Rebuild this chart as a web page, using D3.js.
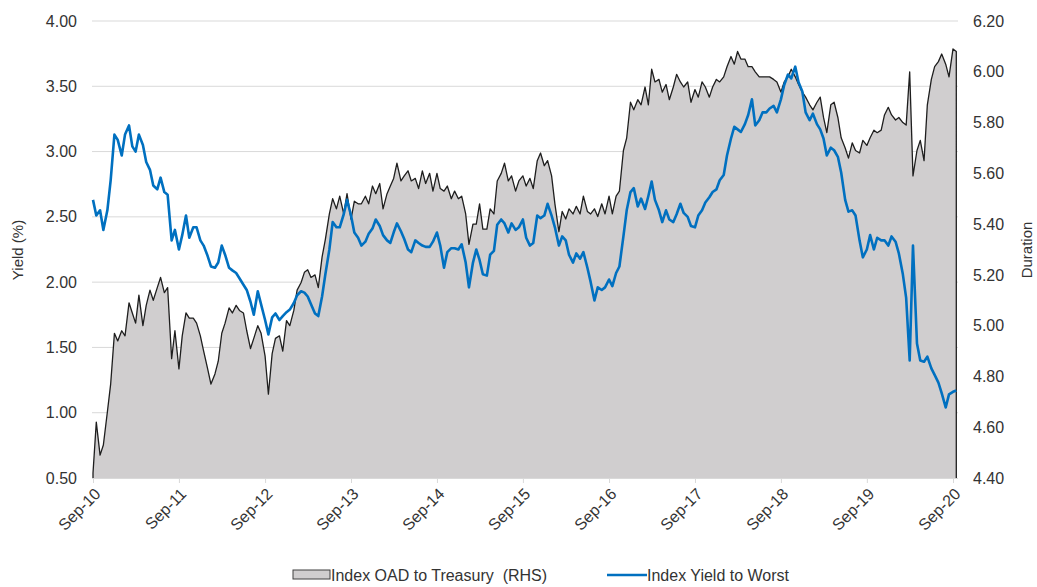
<!DOCTYPE html>
<html><head><meta charset="utf-8">
<script src="https://cdn.jsdelivr.net/npm/d3@7"></script>
<style>
body{margin:0;background:#fff;}
text{font-family:"Liberation Sans",Arial,sans-serif;white-space:pre;}
</style>
</head><body>
<svg id="chart" width="1037" height="587"></svg>
<script>
// Half-monthly observations (1st and 15th of each month) starting Sep 2010
const startYear = 2010, startMonth = 8;
// Index OAD to Treasury (RHS), years
const durationOAD = [
4.42,4.62,4.49,4.53,4.66,4.77,4.97,4.94,4.98,4.96,5.09,5.05,5.01,5.12,5.00,5.08,5.14,5.10,5.15,5.19,
5.13,5.15,4.87,4.98,4.83,4.96,5.05,5.03,5.03,5.01,4.96,4.90,4.83,4.77,4.81,4.86,4.97,5.01,5.07,5.05,
5.08,5.06,5.05,4.98,4.91,4.95,5.00,4.97,4.88,4.73,4.89,4.95,4.96,4.90,5.02,5.00,5.06,5.14,5.17,5.21,
5.22,5.19,5.20,5.15,5.27,5.34,5.44,5.50,5.46,5.51,5.44,5.52,5.42,5.49,5.48,5.48,5.51,5.48,5.55,5.52,
5.56,5.46,5.52,5.55,5.58,5.64,5.57,5.59,5.61,5.57,5.58,5.54,5.61,5.56,5.60,5.53,5.60,5.54,5.53,5.55,
5.50,5.53,5.50,5.51,5.44,5.32,5.40,5.40,5.48,5.38,5.38,5.46,5.44,5.57,5.60,5.64,5.57,5.59,5.53,5.57,
5.59,5.55,5.58,5.54,5.65,5.68,5.63,5.65,5.59,5.48,5.37,5.45,5.42,5.46,5.44,5.47,5.44,5.51,5.45,5.44,
5.46,5.43,5.48,5.44,5.51,5.44,5.51,5.53,5.69,5.74,5.88,5.85,5.89,5.87,5.94,5.87,6.01,5.96,5.97,5.92,
5.95,5.89,5.94,5.99,5.96,5.94,5.96,5.88,5.93,5.90,5.96,5.94,5.90,5.94,5.97,5.96,5.98,6.02,6.06,6.03,
6.08,6.05,6.05,6.02,6.02,6.00,5.98,5.98,5.98,5.98,5.97,5.96,5.92,5.96,5.98,6.01,5.98,5.95,5.92,5.90,
5.87,5.85,5.88,5.90,5.82,5.76,5.87,5.88,5.82,5.74,5.70,5.66,5.72,5.69,5.68,5.73,5.71,5.74,5.77,5.76,
5.77,5.83,5.86,5.83,5.81,5.82,5.80,5.79,6.00,5.59,5.69,5.73,5.65,5.87,5.97,6.02,6.04,6.07,6.03,5.98,
6.09,6.08
];
// Index Yield to Worst (LHS), %
const yieldToWorst = [
2.63,2.51,2.55,2.40,2.55,2.78,3.13,3.09,2.97,3.13,3.20,3.04,3.00,3.13,3.05,2.92,2.86,2.74,2.71,2.80,
2.69,2.67,2.32,2.40,2.25,2.36,2.51,2.34,2.42,2.42,2.32,2.28,2.20,2.12,2.11,2.15,2.28,2.21,2.11,2.09,
2.07,2.03,1.98,1.94,1.85,1.75,1.93,1.83,1.71,1.60,1.73,1.76,1.71,1.74,1.77,1.79,1.84,1.90,1.93,1.92,
1.89,1.83,1.76,1.74,1.89,2.06,2.25,2.46,2.42,2.42,2.52,2.63,2.51,2.38,2.34,2.28,2.31,2.37,2.41,2.48,
2.43,2.36,2.32,2.30,2.38,2.45,2.39,2.33,2.25,2.23,2.32,2.30,2.28,2.27,2.27,2.31,2.38,2.28,2.11,2.23,
2.26,2.26,2.25,2.29,2.15,1.96,2.15,2.25,2.17,2.06,2.05,2.21,2.24,2.44,2.48,2.45,2.38,2.45,2.40,2.42,
2.48,2.34,2.28,2.30,2.51,2.49,2.51,2.60,2.51,2.42,2.28,2.35,2.32,2.21,2.15,2.22,2.18,2.23,2.11,2.00,
1.86,1.96,1.94,1.96,2.02,1.97,2.07,2.12,2.35,2.55,2.69,2.72,2.58,2.64,2.56,2.66,2.77,2.63,2.55,2.46,
2.55,2.48,2.46,2.52,2.60,2.53,2.50,2.43,2.42,2.51,2.55,2.61,2.65,2.69,2.71,2.78,2.82,2.97,3.10,3.19,
3.17,3.15,3.21,3.28,3.40,3.20,3.24,3.30,3.30,3.33,3.35,3.30,3.40,3.51,3.59,3.56,3.65,3.53,3.46,3.30,
3.24,3.29,3.21,3.17,3.10,2.97,3.03,3.01,2.96,2.84,2.63,2.54,2.55,2.51,2.32,2.19,2.25,2.36,2.25,2.34,
2.32,2.32,2.28,2.35,2.31,2.22,2.06,1.88,1.40,2.28,1.53,1.40,1.39,1.43,1.34,1.29,1.23,1.15,1.04,1.14,
1.16,1.17
];
const yieldTicks = [0.50,1.00,1.50,2.00,2.50,3.00,3.50,4.00];
const durationTicks = [4.40,4.60,4.80,5.00,5.20,5.40,5.60,5.80,6.00,6.20];
const tickYears = [2010,2011,2012,2013,2014,2015,2016,2017,2018,2019,2020];
const seriesNames = ["Index OAD to Treasury  (RHS)", "Index Yield to Worst"];
const axisTitles = ["Yield (%)", "Duration"];

(function () {
const dates = durationOAD.map((_, i) => new Date(startYear, startMonth + Math.floor(i / 2), i % 2 === 0 ? 1 : 15));
const dataD = dates.map((d, i) => ({date: d, v: durationOAD[i]}));
const dataY = dates.map((d, i) => ({date: d, v: yieldToWorst[i]}));

const svg = d3.select("#chart");
const pl = 93, pr = 958, pt = 21, pb = 478;
const x = d3.scaleTime().domain([new Date(2010, 8, 1), new Date(2020, 8, 1)]).range([pl, 953]);
const yL = d3.scaleLinear().domain([0.5, 4.0]).range([pb, pt]);
const yR = d3.scaleLinear().domain([4.4, 6.2]).range([pb, pt]);

const txtColor = "#333333";
const gridColor = "#d9d9d9";
const fs = 16;

svg.append("g").selectAll("line").data(yieldTicks.slice(1)).join("line")
  .attr("x1", pl - 1).attr("x2", pr).attr("y1", d => yL(d)).attr("y2", d => yL(d))
  .attr("stroke", gridColor).attr("stroke-width", 1);

const area = d3.area().x(d => x(d.date)).y0(pb).y1(d => yR(d.v));
svg.append("path").datum(dataD).attr("d", area).attr("fill", "#d0cecf");

const lineD = d3.line().x(d => d[0]).y(d => d[1]);
const outline = [[x(dataD[0].date), pb]].concat(dataD.map(d => [x(d.date), yR(d.v)])).concat([[x(dataD[dataD.length-1].date), pb]]);
svg.append("path").datum(outline).attr("d", lineD).attr("fill", "none").attr("stroke", "#1e1e1e").attr("stroke-width", 1.3).attr("stroke-linejoin", "round");

const lineY = d3.line().x(d => x(d.date)).y(d => yL(d.v));
svg.append("path").datum(dataY).attr("d", lineY).attr("fill", "none").attr("stroke", "#0070c0").attr("stroke-width", 2.6).attr("stroke-linejoin", "round");

const xAxis = d3.axisBottom(x).tickValues(tickYears.map(yy => new Date(yy, 8, 1))).tickFormat(d3.timeFormat("%b-%y")).tickSize(5);
const gx = svg.append("g").attr("transform", `translate(0,${pb})`).call(xAxis);
gx.select(".domain").attr("stroke", gridColor).attr("d", `M${pl - 1},0.5H${pr}`);
gx.selectAll(".tick line").attr("stroke", gridColor);
gx.selectAll(".tick text").attr("fill", txtColor).attr("font-size", fs)
  .attr("text-anchor", "end").attr("y", 0).attr("dy", "0.35em")
  .attr("transform", "translate(4,13) rotate(-45)");

const gl = svg.append("g").attr("transform", `translate(${pl},0)`)
  .call(d3.axisLeft(yL).tickValues(yieldTicks).tickFormat(d3.format(".2f")).tickSize(0).tickPadding(16));
gl.select(".domain").remove();
gl.selectAll("text").attr("fill", txtColor).attr("font-size", fs);

const gr = svg.append("g").attr("transform", `translate(${pr},0)`)
  .call(d3.axisRight(yR).tickValues(durationTicks).tickFormat(d3.format(".2f")).tickSize(0).tickPadding(15));
gr.select(".domain").remove();
gr.selectAll("text").attr("fill", txtColor).attr("font-size", fs);

svg.append("text").attr("transform", "translate(23,250) rotate(-90)").attr("text-anchor", "middle")
  .attr("font-size", 15).attr("fill", txtColor).text(axisTitles[0]);
svg.append("text").attr("transform", "translate(1032,250) rotate(-90)").attr("text-anchor", "middle")
  .attr("font-size", 15).attr("fill", txtColor).text(axisTitles[1]);

const lg = svg.append("g");
lg.append("rect").attr("x", 293).attr("y", 570).attr("width", 37).attr("height", 9)
  .attr("fill", "#d0cecf").attr("stroke", "#404040").attr("stroke-width", 1);
lg.append("text").attr("x", 331).attr("y", 581).attr("font-size", fs).attr("fill", txtColor).text(seriesNames[0]);
lg.append("line").attr("x1", 607).attr("x2", 647).attr("y1", 575).attr("y2", 575)
  .attr("stroke", "#0070c0").attr("stroke-width", 2.6);
lg.append("text").attr("x", 647).attr("y", 581).attr("font-size", fs).attr("fill", txtColor).text(seriesNames[1]);
})();
</script>
</body></html>
